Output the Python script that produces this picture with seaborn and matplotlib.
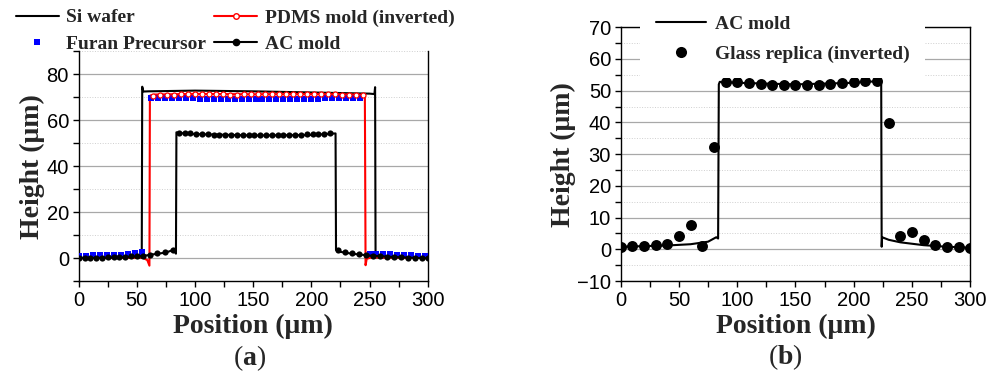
import matplotlib.pyplot as plt
from matplotlib.lines import Line2D
from matplotlib.ticker import MultipleLocator
from matplotlib.font_manager import FontProperties
import seaborn as sns

# ---------------- panel (a): profiles ----------------
si_x = [0, 30, 54.2, 54.6, 55.6, 60, 100, 150, 200, 250, 254.2, 254.8, 255.2, 270, 300]
si_y = [0.3, 0.3, 0.3, 74.6, 72.5, 72.6, 72.9, 72.6, 72.1, 71.6, 71.4, 74.4, 0.4, 0.3, 0.2]

pdms_x = [0, 30, 55, 59, 60.8, 61.2, 61.6, 66, 100, 150, 200, 240, 246.0, 246.6, 247.6, 252, 270, 300]
pdms_y = [0.1, 0.2, 0.3, -0.8, -3.2, 70.2, 70.8, 71.2, 71.5, 71.3, 71.4, 71.2, 71.0, -3.0, -0.2, 0.4, 0.3, 0.1]
pdms_mx = [64, 70, 76, 82, 88, 94, 100, 106, 112, 118, 124, 130, 136, 142, 148, 154,
           160, 166, 172, 178, 184, 190, 196, 202, 208, 214, 220, 226, 232, 238, 244]
pdms_my = [70.6, 70.9, 71.1, 71.2, 71.3, 71.4, 71.4, 71.5, 71.5, 71.4, 71.3, 71.2, 71.2, 71.3, 71.4, 71.5,
           71.6, 71.6, 71.5, 71.6, 71.6, 71.5, 71.5, 71.4, 71.4, 71.3, 71.3, 71.2, 71.1, 71.0, 70.9]

furan_x = [0, 6, 12, 18, 24, 30, 36, 42, 48, 54,
           62, 68, 74, 80, 86, 92, 98, 104, 110, 116, 122, 128, 134, 140, 146, 152,
           158, 164, 170, 176, 182, 188, 194, 200, 206, 212, 218, 224, 230, 236, 242,
           250, 256, 262, 268, 274, 280, 286, 292, 298]
furan_y = [1.2, 1.2, 1.3, 1.3, 1.4, 1.5, 1.6, 1.8, 2.1, 2.6,
           69.9, 69.8, 69.8, 69.7, 69.6, 69.5, 69.5, 69.4, 69.4, 69.3, 69.3, 69.2, 69.2, 69.2, 69.1, 69.1,
           69.1, 69.2, 69.2, 69.2, 69.3, 69.3, 69.3, 69.4, 69.4, 69.5, 69.5, 69.6, 69.7, 69.7, 69.8,
           1.7, 1.9, 1.8, 1.7, 1.6, 1.5, 1.3, 1.2, 1.1]

ac_x = [0, 20, 40, 55, 65, 75, 82, 83.6, 84, 86, 100, 150, 200, 218, 220.8, 221.2, 225, 235, 250, 270, 300]
ac_y = [0.1, 0.2, 0.5, 1.0, 1.8, 2.5, 3.8, 2.0, 54.8, 54.5, 54.0, 53.4, 53.6, 54.2, 54.3, 3.6, 2.8, 2.0, 1.2, 0.6, 0.0]
ac_mx = [0, 5, 10, 15, 20, 25, 30, 35, 40, 45, 50, 55, 61, 67, 74, 81,
         86, 91, 96, 101, 106, 111, 116, 121, 126, 131, 136, 141, 146, 151, 156, 161,
         166, 171, 176, 181, 186, 191, 196, 201, 206, 211, 216,
         223, 229, 235, 241, 247, 253, 259, 265, 271, 277, 283, 289, 295, 300]
ac_my = [0.1, 0.2, 0.2, 0.3, 0.3, 0.4, 0.5, 0.6, 0.7, 0.8, 1.0, 1.2, 1.6, 2.2, 2.6, 3.6,
         54.6, 54.4, 54.3, 54.2, 54.0, 53.9, 53.8, 53.7, 53.6, 53.5, 53.5, 53.4, 53.4, 53.4, 53.4, 53.4,
         53.5, 53.5, 53.6, 53.6, 53.7, 53.8, 53.9, 54.0, 54.1, 54.2, 54.3,
         3.5, 2.8, 2.2, 1.8, 1.4, 1.1, 0.9, 0.7, 0.5, 0.4, 0.3, 0.2, 0.1, 0.0]

# ---------------- panel (b) ----------------
acb_x = [0, 20, 40, 60, 75, 82, 83.6, 84.2, 85, 100, 150, 200, 220, 223.6, 224.0, 224.4, 230, 240, 260, 280, 300]
acb_y = [0.8, 1.0, 1.2, 1.6, 2.4, 3.8, 3.4, 52.0, 52.8, 52.5, 52.0, 52.5, 53.0, 53.0, 0.8, 3.8, 3.0, 2.2, 1.3, 0.8, 0.5]

glass_x = [0, 10, 20, 30, 40, 50, 60, 70, 80, 90, 100, 110, 120, 130, 140, 150,
           160, 170, 180, 190, 200, 210, 220, 230, 240, 250, 260, 270, 280, 290, 300]
glass_y = [0.8, 0.9, 0.9, 1.2, 1.8, 4.2, 7.6, 1.0, 32.3, 52.8, 52.6, 52.3, 52.1, 51.9, 51.9, 51.8,
           51.7, 51.8, 52.0, 52.3, 52.6, 53.0, 53.1, 39.8, 4.2, 5.6, 3.0, 1.4, 0.8, 0.6, 0.3]

sns.set_style("ticks")
plt.rcParams["font.family"] = ["Liberation Sans", "DejaVu Sans"]
plt.rcParams["mathtext.fontset"] = "custom"
plt.rcParams["mathtext.rm"] = "Liberation Serif"
plt.rcParams["mathtext.bf"] = "Liberation Serif:bold"

serif_bold = dict(family="Liberation Serif", weight="bold", size=20)
leg_font = FontProperties(family="Liberation Serif", weight="bold", size=14)

fig = plt.figure(figsize=(9.9, 3.8), dpi=100)
ax1 = fig.add_axes([0.0795, 0.2597, 0.3525, 0.6053])
ax2 = fig.add_axes([0.627, 0.2605, 0.353, 0.6677])

# panel (a)
sns.lineplot(x=si_x, y=si_y, ax=ax1, color="black", lw=1.5, sort=False, estimator=None, zorder=3)
sns.lineplot(x=pdms_x, y=pdms_y, ax=ax1, color="red", lw=1.5, sort=False, estimator=None, zorder=4)
sns.scatterplot(x=pdms_mx, y=pdms_my, ax=ax1, marker="o", s=13, facecolor="white",
                edgecolor="red", linewidth=0.9, zorder=5)
sns.scatterplot(x=furan_x, y=furan_y, ax=ax1, marker="s", s=20, color="blue", linewidth=0, zorder=4)
sns.lineplot(x=ac_x, y=ac_y, ax=ax1, color="black", lw=1.5, sort=False, estimator=None, zorder=6)
sns.scatterplot(x=ac_mx, y=ac_my, ax=ax1, marker="o", s=20, color="black", linewidth=0, zorder=6)

# panel (b)
sns.lineplot(x=acb_x, y=acb_y, ax=ax2, color="black", lw=1.5, sort=False, estimator=None, zorder=3)
sns.scatterplot(x=glass_x, y=glass_y, ax=ax2, marker="o", s=62, color="black", linewidth=0, zorder=4)

for ax, ylim, ymaj, ymin in [(ax1, (-10, 90), 20, 10), (ax2, (-10, 70), 10, 5)]:
    ax.set_xlim(0, 300)
    ax.set_ylim(*ylim)
    ax.xaxis.set_major_locator(MultipleLocator(50))
    ax.xaxis.set_minor_locator(MultipleLocator(25))
    ax.yaxis.set_major_locator(MultipleLocator(ymaj))
    ax.yaxis.set_minor_locator(MultipleLocator(ymin))
    ax.yaxis.grid(True, which="major", color="#a8a8a8", lw=0.9)
    ax.yaxis.grid(True, which="minor", color="#cfcfcf", lw=0.7, ls=":")
    ax.set_axisbelow(True)
    ax.tick_params(axis="both", which="both", direction="out", labelsize=14.5,
                   length=4, width=1, pad=3, colors="black")
    for sp in ax.spines.values():
        sp.set_linewidth(1.0)
        sp.set_color("black")
    ax.set_xlabel("Position (μm)", fontdict=serif_bold, labelpad=3)
    ax.set_ylabel("Height (μm)", fontdict=serif_bold, labelpad=1)

ax1.spines["top"].set_visible(False)

# legends
h_a = [Line2D([], [], color="black", lw=1.5),
       Line2D([], [], color="blue", marker="s", ls="none", ms=4.5, mew=0),
       Line2D([], [], color="red", lw=1.5, marker="o", mfc="white", mec="red", ms=4),
       Line2D([], [], color="black", lw=1.5, marker="o", ms=4.5)]
l_a = ["Si wafer", "Furan Precursor", "PDMS mold (inverted)", "AC mold"]
fig.legend(h_a, l_a, loc="upper left", bbox_to_anchor=(12 / 990, 1 - 5 / 380), ncol=2, frameon=False,
           prop=leg_font, handlelength=2.2, handletextpad=0.4, columnspacing=0.4,
           labelspacing=0.45, borderpad=0.2, borderaxespad=0)

h_b = [Line2D([], [], color="black", lw=1.5),
       Line2D([], [], color="black", marker="o", ls="none", ms=8, mew=0)]
ax2.legend(h_b, ["AC mold", "Glass replica (inverted)"], loc="upper left",
           bbox_to_anchor=(640 / 990, 1.0), bbox_transform=fig.transFigure,
           frameon=True, facecolor="white", edgecolor="none", framealpha=1, fancybox=False,
           prop=leg_font, handlelength=2.6, handletextpad=0.45, labelspacing=0.6,
           borderpad=0.8, borderaxespad=0)

# panel labels
fig.text(250 / 990, 1 - 358 / 380, "(" + r"$\mathbf{a}$" + ")", ha="center", va="center",
         fontsize=20, family="Liberation Serif")
fig.text(785 / 990, 1 - 357 / 380, "(" + r"$\mathbf{b}$" + ")", ha="center", va="center",
         fontsize=20, family="Liberation Serif")

plt.savefig("out.png", dpi=100)
